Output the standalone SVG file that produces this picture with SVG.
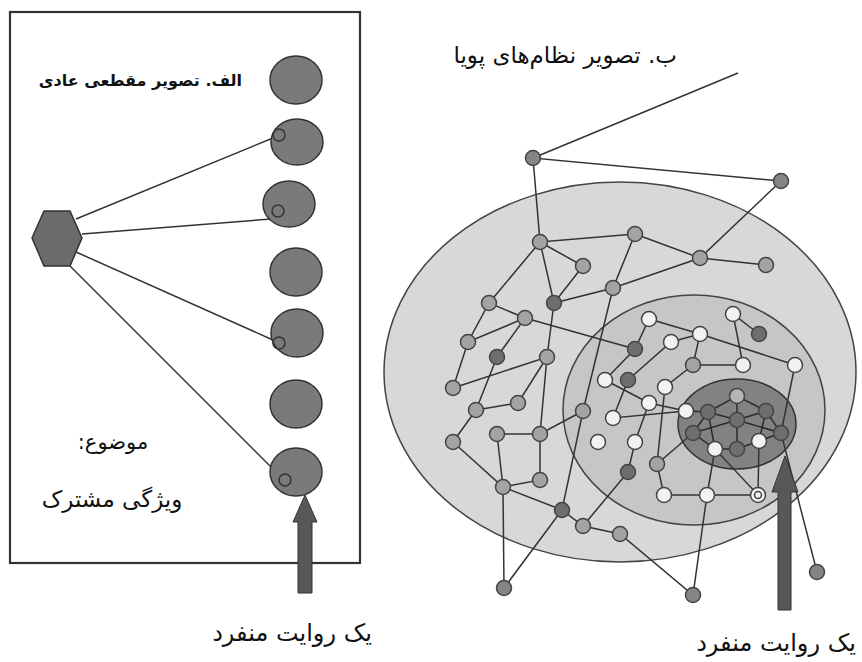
<svg xmlns="http://www.w3.org/2000/svg" width="862" height="662" viewBox="0 0 862 662">
<style>
.ln{stroke:#333;stroke-width:1.5;fill:none}
.bc{fill:#7a7a7a;stroke:#333;stroke-width:1.5}
.sc{fill:none;stroke:#333;stroke-width:1.5}
.n circle{stroke:#444;stroke-width:1.5}
.g{fill:#a3a3a3}
.d{fill:#6e6e6e}
.m{fill:#858585}
.w{fill:#f2f2f2}
.l{fill:#b5b5b5}
.t{font-family:"DejaVu Sans",sans-serif;fill:#111;direction:rtl}
.arr{fill:#585858;stroke:#333;stroke-width:1}
</style>
<rect width="862" height="662" fill="#fff"/>
<!-- Left panel -->
<g id="panelA">
<rect x="10" y="12" width="350" height="551" fill="none" stroke="#333" stroke-width="2.2"/>
<text class="t" x="242" y="86" text-anchor="start" font-size="16" font-weight="bold">الف. تصویر مقطعی عادی</text>
<text class="t" x="113" y="449" text-anchor="middle" font-size="21">موضوع:</text>
<text class="t" x="112" y="507" text-anchor="middle" font-size="23">ویژگی مشترک</text>
<text class="t" x="292" y="641" text-anchor="middle" font-size="24">یک روایت منفرد</text>
</g>
<g id="connectorsA">
<line class="ln" x1="76" y1="219" x2="273" y2="138"/>
<line class="ln" x1="82" y1="234" x2="271" y2="219"/>
<line class="ln" x1="76" y1="252" x2="273" y2="340"/>
<line class="ln" x1="70" y1="266" x2="280" y2="476"/>
</g>
<g id="hexagon"><polygon points="32,238 44,211 70,211 82,238 70,266 44,266" fill="#6b6b6b" stroke="#333" stroke-width="1.5"/></g>
<g id="c1"><ellipse class="bc" cx="296" cy="80" rx="26" ry="24"/></g>
<g id="c2"><ellipse class="bc" cx="297" cy="142" rx="26" ry="23"/><circle class="sc" cx="279" cy="135" r="6"/></g>
<g id="c3"><ellipse class="bc" cx="289" cy="204" rx="26" ry="23"/><circle class="sc" cx="278" cy="211" r="6"/></g>
<g id="c4"><ellipse class="bc" cx="296" cy="272" rx="26" ry="24"/></g>
<g id="c5"><ellipse class="bc" cx="297" cy="333" rx="26" ry="24"/><circle class="sc" cx="279" cy="343" r="6"/></g>
<g id="c6"><ellipse class="bc" cx="296" cy="404" rx="26" ry="24"/></g>
<g id="c7"><ellipse class="bc" cx="296" cy="472" rx="26" ry="24"/><circle class="sc" cx="285" cy="480" r="6"/></g>
<g id="arrowA"><polygon class="arr" points="305,495 317,522 312,522 312,593 298,593 298,522 293,522"/></g>
<!-- Right panel -->
<g id="regions">
<ellipse cx="620" cy="372" rx="236" ry="190" fill="#d8d8d8" stroke="#444" stroke-width="1.5"/>
<ellipse cx="694" cy="410" rx="131" ry="115" fill="#c6c6c6" stroke="#444" stroke-width="1.5"/>
<ellipse cx="737" cy="424" rx="59" ry="45" fill="#828282" stroke="#333" stroke-width="1.5"/>
</g>
<text class="t" x="677" y="63" text-anchor="start" font-size="23">ب. تصویر نظام‌های پویا</text>
<g id="connectors">
<line class="ln" x1="738" y1="73" x2="533" y2="158"/>
<polyline class="ln" points="781,181 533,158 540,242 635,234"/>
<polyline class="ln" points="540,242 583,266 554,303 540,242"/>
<polyline class="ln" points="540,242 489,303 525,318 468,342 489,303"/>
<polyline class="ln" points="635,234 613,288 554,303"/>
<polyline class="ln" points="635,234 700,258 766,265"/>
<line class="ln" x1="700" y1="258" x2="781" y2="181"/>
<line class="ln" x1="613" y1="288" x2="700" y2="258"/>
<line class="ln" x1="525" y1="318" x2="497" y2="357"/>
<line class="ln" x1="525" y1="318" x2="635" y2="349"/>
<line class="ln" x1="554" y1="303" x2="547" y2="357"/>
<polyline class="ln" points="468,342 453,388 547,357 518,403 476,410 497,357"/>
<polyline class="ln" points="476,410 453,442 503,487 497,434 540,434 583,411"/>
<polyline class="ln" points="547,357 540,434 540,480 503,487"/>
<line class="ln" x1="613" y1="288" x2="583" y2="411"/>
<polyline class="ln" points="583,411 562,510 504,588 503,487 562,510 583,526 620,534 693,595 707,495"/>
<line class="ln" x1="583" y1="526" x2="628" y2="472"/>
<polyline class="ln" points="628,472 635,442 649,403"/>
<polyline class="ln" points="664,495 707,495 758,495"/>
<polyline class="ln" points="664,495 657,464 665,387 693,365"/>
<line class="ln" x1="657" y1="464" x2="693" y2="433"/>
<polyline class="ln" points="605,380 635,349 649,319 700,334 671,342 628,380"/>
<polyline class="ln" points="605,380 649,403 686,411"/>
<polyline class="ln" points="628,380 613,418 686,411"/>
<polyline class="ln" points="700,334 693,365 743,365"/>
<line class="ln" x1="700" y1="334" x2="795" y2="365"/>
<polyline class="ln" points="759,334 733,314 743,365"/>
<polyline class="ln" points="795,365 781,433 817,572"/>
<polyline class="ln" points="707,495 715,449 758,495 759,441"/>
<g stroke="#2a2a2a" stroke-width="1.5" fill="none">
<polyline points="686,411 708,412 737,396 766,411 781,433 759,441 737,449 715,449 693,433 708,412"/>
<polyline points="737,396 737,420 737,449"/>
<polyline points="708,412 737,420 766,411"/>
<polyline points="693,433 737,420 781,433"/>
<polyline points="766,411 759,441"/>
<polyline points="708,412 715,449"/>
</g>
</g>
<g id="nodes" class="n">
<circle id="A" class="m" cx="533" cy="158" r="7.5"/>
<circle id="B" class="m" cx="781" cy="181" r="7.5"/>
<circle class="g" cx="540" cy="242" r="7.5"/>
<circle class="g" cx="635" cy="234" r="7.5"/>
<circle class="g" cx="583" cy="266" r="7.5"/>
<circle class="d" cx="554" cy="303" r="7.5"/>
<circle class="g" cx="613" cy="288" r="7.5"/>
<circle class="g" cx="700" cy="258" r="7.5"/>
<circle class="g" cx="766" cy="265" r="7.5"/>
<circle class="g" cx="489" cy="303" r="7.5"/>
<circle class="g" cx="525" cy="318" r="7.5"/>
<circle class="g" cx="468" cy="342" r="7.5"/>
<circle class="d" cx="497" cy="357" r="7.5"/>
<circle class="g" cx="547" cy="357" r="7.5"/>
<circle class="d" cx="635" cy="349" r="7.5"/>
<circle class="g" cx="453" cy="388" r="7.5"/>
<circle class="g" cx="476" cy="410" r="7.5"/>
<circle class="g" cx="518" cy="403" r="7.5"/>
<circle class="d" cx="628" cy="380" r="7.5"/>
<circle class="g" cx="583" cy="411" r="7.5"/>
<circle class="g" cx="453" cy="442" r="7.5"/>
<circle class="g" cx="497" cy="434" r="7.5"/>
<circle class="g" cx="540" cy="434" r="7.5"/>
<circle class="g" cx="503" cy="487" r="7.5"/>
<circle class="g" cx="540" cy="480" r="7.5"/>
<circle class="d" cx="562" cy="510" r="7.5"/>
<circle class="g" cx="583" cy="526" r="7.5"/>
<circle class="g" cx="620" cy="534" r="7.5"/>
<circle class="d" cx="628" cy="472" r="7.5"/>
<circle class="g" cx="657" cy="464" r="7.5"/>
<circle class="m" cx="504" cy="588" r="7.5"/>
<circle class="m" cx="693" cy="595" r="7.5"/>
<circle class="m" cx="817" cy="572" r="7.5"/>
<circle class="g" cx="693" cy="365" r="7.5"/>
<circle class="w" cx="649" cy="319" r="7.5"/>
<circle class="w" cx="605" cy="380" r="7.5"/>
<circle class="w" cx="613" cy="418" r="7.5"/>
<circle class="w" cx="649" cy="403" r="7.5"/>
<circle class="w" cx="598" cy="442" r="7.5"/>
<circle class="w" cx="635" cy="442" r="7.5"/>
<circle class="w" cx="664" cy="495" r="7.5"/>
<circle class="w" cx="707" cy="495" r="7.5"/>
<circle class="w" cx="758" cy="495" r="7.5"/>
<circle cx="758" cy="495" r="3.5" fill="none"/>
<circle class="w" cx="733" cy="314" r="7.5"/>
<circle class="d" cx="759" cy="334" r="7.5"/>
<circle class="w" cx="671" cy="342" r="7.5"/>
<circle class="w" cx="700" cy="334" r="7.5"/>
<circle class="w" cx="743" cy="365" r="7.5"/>
<circle class="w" cx="795" cy="365" r="7.5"/>
<circle class="w" cx="665" cy="387" r="7.5"/>
<circle class="w" cx="686" cy="411" r="7.5"/>
<circle class="w" cx="715" cy="449" r="7.5"/>
<circle class="w" cx="759" cy="441" r="7.5"/>
<circle class="l" cx="737" cy="396" r="7.5"/>
<circle class="d" cx="708" cy="412" r="7.5"/>
<circle class="d" cx="766" cy="411" r="7.5"/>
<circle class="d" cx="737" cy="420" r="7.5"/>
<circle class="d" cx="693" cy="433" r="7.5"/>
<circle class="d" cx="781" cy="433" r="7.5"/>
<circle class="d" cx="737" cy="449" r="7.5"/>
</g>
<g id="arrowB"><polygon class="arr" points="785,456 798,492 791,492 791,610 778,610 778,492 772,492"/></g>
<text class="t" x="776" y="651" text-anchor="middle" font-size="24">یک روایت منفرد</text>
</svg>
